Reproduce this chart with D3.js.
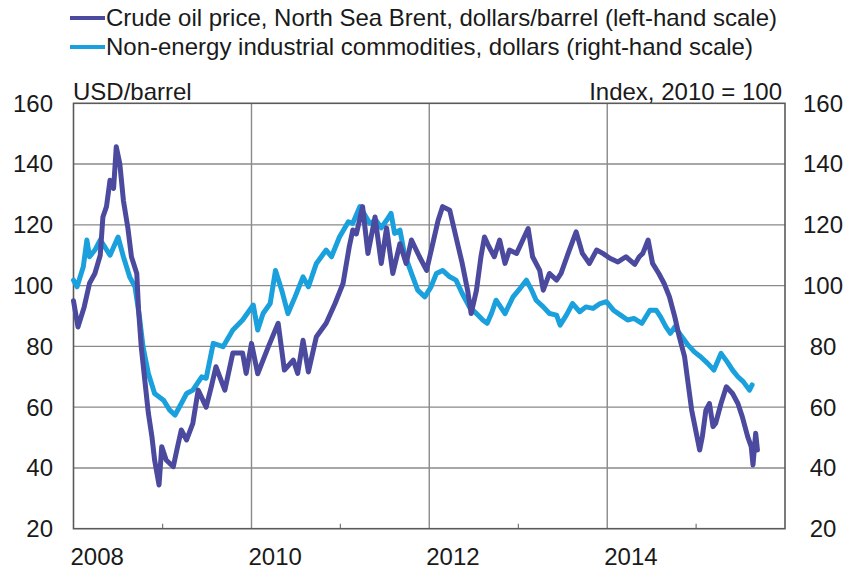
<!DOCTYPE html>
<html>
<head>
<meta charset="utf-8">
<script src="https://cdn.jsdelivr.net/npm/d3@7"></script>
<style>
  html, body { margin: 0; padding: 0; background: #fff; }
  svg { display: block; }
  text { font-family: "Liberation Sans", Arial, Helvetica, sans-serif; fill: #1a1a1a; }
</style>
</head>
<body>
<svg id="chart" width="851" height="569"></svg>
<script>
// ---------------- DATA ----------------
const seriesNames = [
  "Crude oil price, North Sea Brent, dollars/barrel (left-hand scale)",
  "Non-energy industrial commodities, dollars (right-hand scale)"
];
const leftUnit = "USD/barrel";
const rightUnit = "Index, 2010 = 100";
const yTicks = [20, 40, 60, 80, 100, 120, 140, 160];
const yearLabels = [2008, 2010, 2012, 2014];
const minorYears = [2009, 2011, 2013, 2015];

// Brent, decimal year and USD/barrel
const brentYears = [2008.0, 2008.05, 2008.12, 2008.18, 2008.24, 2008.3, 2008.33, 2008.37, 2008.41, 2008.45, 2008.48, 2008.52, 2008.56, 2008.61, 2008.65, 2008.71, 2008.73, 2008.76, 2008.8, 2008.84, 2008.88, 2008.91, 2008.96, 2008.99, 2009.04, 2009.12, 2009.16, 2009.21, 2009.27, 2009.34, 2009.4, 2009.49, 2009.55, 2009.6, 2009.7, 2009.79, 2009.9, 2009.94, 2010.0, 2010.07, 2010.19, 2010.3, 2010.37, 2010.47, 2010.52, 2010.58, 2010.64, 2010.73, 2010.84, 2010.94, 2011.03, 2011.1, 2011.14, 2011.18, 2011.25, 2011.31, 2011.39, 2011.46, 2011.52, 2011.59, 2011.67, 2011.74, 2011.8, 2011.89, 2011.97, 2012.04, 2012.1, 2012.15, 2012.23, 2012.3, 2012.37, 2012.43, 2012.47, 2012.53, 2012.58, 2012.62, 2012.67, 2012.73, 2012.79, 2012.85, 2012.9, 2012.98, 2013.05, 2013.11, 2013.16, 2013.24, 2013.28, 2013.35, 2013.43, 2013.48, 2013.56, 2013.65, 2013.72, 2013.8, 2013.88, 2013.95, 2014.03, 2014.12, 2014.21, 2014.31, 2014.36, 2014.4, 2014.46, 2014.51, 2014.58, 2014.64, 2014.7, 2014.76, 2014.81, 2014.87, 2014.91, 2014.95, 2015.01, 2015.04, 2015.07, 2015.11, 2015.15, 2015.19, 2015.22, 2015.28, 2015.34, 2015.41, 2015.47, 2015.52, 2015.58, 2015.62, 2015.64, 2015.67, 2015.69];
const brentValues = [95, 86.4, 93, 100.8, 104, 110, 122.6, 126, 134.7, 132, 145.7, 140, 128, 119, 109.5, 104, 92, 79.9, 68.9, 58, 50.3, 42.6, 34.4, 47, 42.6, 40.4, 45.9, 52.5, 49.2, 54.7, 65.6, 60, 67, 73.3, 65.6, 77.8, 77.8, 71.1, 81, 71, 79.9, 87.6, 72.2, 75.5, 71.1, 82, 71.6, 83.2, 87.6, 94.1, 100.7, 112.8, 118.3, 117, 126, 110.6, 122.6, 107.3, 119, 104, 113.8, 107.3, 115, 109.5, 105, 113.9, 121.5, 126, 124.8, 116, 107.3, 98.5, 90.8, 98.5, 109.5, 116, 112.8, 109.5, 115, 107.3, 111.7, 110.6, 115, 118.8, 109.5, 105, 98.5, 104, 101.8, 104, 110.6, 117.7, 110.6, 107.3, 111.7, 110.6, 109, 107.8, 109.5, 107, 109.5, 110.6, 115, 107.3, 104, 100.7, 96.3, 89.7, 83.2, 76.6, 67.8, 59, 50.3, 45.9, 50.3, 59, 61.2, 53.6, 54.7, 61.2, 66.7, 64.5, 61.2, 56.8, 50.3, 47, 41, 51.4, 45.9];

// Non-energy industrial commodities, decimal year and index (2010 = 100)
const nonEnergyYears = [2008.0, 2008.04, 2008.11, 2008.15, 2008.18, 2008.24, 2008.3, 2008.35, 2008.41, 2008.5, 2008.56, 2008.63, 2008.69, 2008.74, 2008.78, 2008.84, 2008.91, 2009.01, 2009.08, 2009.14, 2009.21, 2009.27, 2009.34, 2009.44, 2009.49, 2009.57, 2009.68, 2009.79, 2009.9, 2010.02, 2010.07, 2010.13, 2010.21, 2010.27, 2010.34, 2010.41, 2010.49, 2010.58, 2010.64, 2010.73, 2010.84, 2010.9, 2010.99, 2011.09, 2011.14, 2011.17, 2011.22, 2011.33, 2011.4, 2011.46, 2011.52, 2011.57, 2011.61, 2011.67, 2011.72, 2011.8, 2011.87, 2011.95, 2012.02, 2012.08, 2012.15, 2012.23, 2012.3, 2012.37, 2012.45, 2012.53, 2012.6, 2012.65, 2012.7, 2012.75, 2012.85, 2012.94, 2013.02, 2013.09, 2013.15, 2013.2, 2013.28, 2013.35, 2013.43, 2013.47, 2013.54, 2013.61, 2013.69, 2013.76, 2013.84, 2013.92, 2013.99, 2014.07, 2014.15, 2014.23, 2014.3, 2014.39, 2014.48, 2014.55, 2014.6, 2014.66, 2014.71, 2014.76, 2014.84, 2014.91, 2014.98, 2015.05, 2015.13, 2015.2, 2015.28, 2015.35, 2015.41, 2015.47, 2015.53, 2015.6, 2015.63];
const nonEnergyValues = [101.8, 99.6, 106.2, 115, 109.5, 111.7, 115, 112.8, 110, 116, 109.5, 102.9, 99.6, 89.7, 79.9, 71.1, 64.5, 62.3, 59, 57.4, 61.2, 64.5, 65.6, 70, 69.5, 81, 79.9, 85.4, 88.7, 93.6, 85.4, 90.8, 94.1, 105, 98.5, 90.8, 96.3, 102.9, 99.6, 107.3, 111.7, 109.5, 116, 121, 120.5, 122.6, 126, 120.5, 121.5, 119, 121.5, 123.8, 117.2, 118.3, 110.6, 104, 98.5, 96.3, 99.6, 104, 105, 102.9, 101.8, 97.4, 93, 90.8, 88.7, 87.6, 91, 95.2, 90.8, 96.3, 99.1, 101.8, 98.5, 95.2, 93, 90.8, 90.3, 87, 90.3, 94.1, 91.4, 93, 92.5, 94.1, 94.7, 91.9, 90.3, 88.7, 89.2, 87.6, 91.9, 91.9, 89.7, 86.4, 84.3, 86.4, 83.2, 80.4, 78.2, 76.6, 74.4, 72.2, 77.7, 74.9, 72.2, 70, 68.4, 65.6, 67.3];

const colors = ["#4b4a9e", "#1aa0dc"];

// ---------------- LAYOUT ----------------
const W = 851, H = 569;
const plot = { left: 73.5, right: 785, top: 103.3, bottom: 528.7 };

function decToDate(t) {
  const y = Math.floor(t);
  const start = Date.UTC(y, 0, 1), end = Date.UTC(y + 1, 0, 1);
  return new Date(start + (t - y) * (end - start));
}

const x = d3.scaleUtc()
  .domain([new Date(Date.UTC(2008, 0, 1)), new Date(Date.UTC(2016, 0, 1))])
  .range([plot.left, plot.right]);
const y = d3.scaleLinear().domain([20, 160]).range([plot.bottom, plot.top]);

const svg = d3.select("#chart");
svg.append("rect").attr("width", W).attr("height", H).attr("fill", "#fff");

// horizontal gridlines
svg.append("g").selectAll("line").data(yTicks.slice(1, -1)).join("line")
  .attr("x1", plot.left).attr("x2", plot.right)
  .attr("y1", d => y(d)).attr("y2", d => y(d))
  .attr("stroke", "#8a8a8a").attr("stroke-width", 1.4);

// vertical gridlines at labelled years
svg.append("g").selectAll("line").data(yearLabels.slice(1)).join("line")
  .attr("x1", d => x(new Date(Date.UTC(d, 0, 1)))).attr("x2", d => x(new Date(Date.UTC(d, 0, 1))))
  .attr("y1", plot.top).attr("y2", plot.bottom)
  .attr("stroke", "#8a8a8a").attr("stroke-width", 1.4);

// minor ticks
svg.append("g").selectAll("line").data(minorYears).join("line")
  .attr("x1", d => x(new Date(Date.UTC(d, 0, 1)))).attr("x2", d => x(new Date(Date.UTC(d, 0, 1))))
  .attr("y1", plot.bottom).attr("y2", plot.bottom - 5)
  .attr("stroke", "#777").attr("stroke-width", 1.2);

// frame
svg.append("rect")
  .attr("x", plot.left).attr("y", plot.top)
  .attr("width", plot.right - plot.left).attr("height", plot.bottom - plot.top)
  .attr("fill", "none").attr("stroke", "#5a5a5a").attr("stroke-width", 1.6);

// left & right tick labels
svg.append("g").selectAll("text").data(yTicks).join("text")
  .attr("x", 53).attr("y", d => y(d)).attr("dy", "0.35em")
  .attr("text-anchor", "end").attr("font-size", 24).text(d => d);
svg.append("g").selectAll("text").data(yTicks).join("text")
  .attr("x", 823).attr("y", d => y(d)).attr("dy", "0.35em")
  .attr("text-anchor", "middle").attr("font-size", 24).text(d => d);

// year labels
svg.append("g").selectAll("text").data(yearLabels).join("text")
  .attr("x", d => x(new Date(Date.UTC(d, 0, 1))) - 3).attr("y", 565)
  .attr("text-anchor", "start").attr("font-size", 24).text(d => d);

// unit labels
svg.append("text").attr("x", 73).attr("y", 100).attr("font-size", 24).text(leftUnit);
svg.append("text").attr("x", 782).attr("y", 100).attr("text-anchor", "end").attr("font-size", 24).text(rightUnit);

// lines
const line = d3.line().x(d => x(d.date)).y(d => y(d.value)).curve(d3.curveLinear);
const brent = brentYears.map((t, i) => ({ date: decToDate(t), value: brentValues[i] }));
const nonEnergy = nonEnergyYears.map((t, i) => ({ date: decToDate(t), value: nonEnergyValues[i] }));

svg.append("path").datum(nonEnergy).attr("d", line)
  .attr("fill", "none").attr("stroke", colors[1]).attr("stroke-width", 5)
  .attr("stroke-linejoin", "round").attr("stroke-linecap", "round");
svg.append("path").datum(brent).attr("d", line)
  .attr("fill", "none").attr("stroke", colors[0]).attr("stroke-width", 5)
  .attr("stroke-linejoin", "round").attr("stroke-linecap", "round");

// legend
const legend = svg.append("g");
seriesNames.forEach((name, i) => {
  const by = 26 + i * 29;
  legend.append("line").attr("x1", 70).attr("x2", 105)
    .attr("y1", by - 8).attr("y2", by - 8)
    .attr("stroke", colors[i]).attr("stroke-width", 4);
  legend.append("text").attr("x", 106).attr("y", by).attr("font-size", 24).text(name);
});
</script>
</body>
</html>
